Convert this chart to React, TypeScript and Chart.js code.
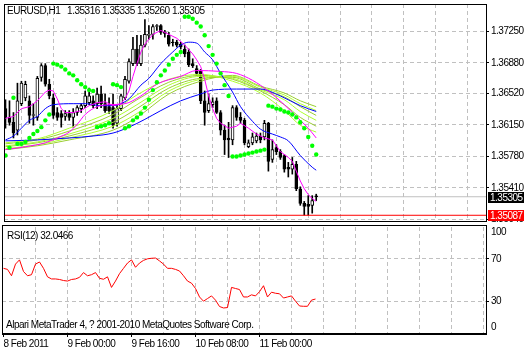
import React, { useEffect, useRef } from "react";
import { Chart, registerables } from "chart.js";
Chart.register(...registerables);

// ---------- DATA ----------
const opens = [1.36341,1.36238,1.36180,1.36088,1.36399,1.36468,1.36433,1.36261,1.36238,1.36709,
1.36847,1.36628,1.36468,1.36295,1.36284,1.36249,1.36284,1.36238,1.36295,1.36341,
1.36376,1.36410,1.36433,1.36399,1.36513,1.36399,1.36364,1.36353,1.36169,1.36341,
1.36468,1.36663,1.36870,1.37042,1.36870,1.37088,1.37203,1.37214,1.37306,1.37318,
1.37237,1.37203,1.37122,1.37122,1.37099,1.37042,1.37007,1.36870,1.36812,1.36778,
1.36433,1.36318,1.36387,1.36433,1.36295,1.36088,1.35996,1.35973,1.36353,1.36238,
1.36203,1.35893,1.35939,1.35962,1.36019,1.36008,1.36169,1.35744,1.35882,1.35836,
1.35790,1.35652,1.35629,1.35686,1.35399,1.35227,1.35215,1.35204,1.35316];
const highs = [1.36445,1.36433,1.36295,1.36640,1.36663,1.36663,1.36490,1.36399,1.36720,1.36870,
1.36870,1.36686,1.36513,1.36353,1.36318,1.36318,1.36318,1.36341,1.36376,1.36399,
1.36548,1.36582,1.36490,1.36582,1.36605,1.36513,1.36468,1.36513,1.36376,1.36513,
1.36720,1.36927,1.37180,1.37203,1.37203,1.37387,1.37318,1.37329,1.37329,1.37329,
1.37260,1.37237,1.37157,1.37145,1.37122,1.37088,1.37042,1.36927,1.36847,1.36801,
1.36548,1.36513,1.36468,1.36468,1.36318,1.36146,1.36180,1.36376,1.36376,1.36295,
1.36226,1.35973,1.36054,1.36054,1.36054,1.36203,1.36180,1.35973,1.35916,1.35859,
1.35801,1.35709,1.35767,1.35721,1.35422,1.35250,1.35318,1.35318,1.35335];
const lows = [1.36111,1.36146,1.35996,1.36031,1.36376,1.36433,1.36169,1.36146,1.36203,1.36663,
1.36605,1.36456,1.36226,1.36203,1.36123,1.36203,1.36203,1.36123,1.36261,1.36295,
1.36353,1.36387,1.36353,1.36341,1.36353,1.36295,1.36284,1.36111,1.36134,1.36318,
1.36445,1.36640,1.36847,1.36847,1.36847,1.37065,1.37157,1.37157,1.37260,1.37214,
1.37180,1.37076,1.37076,1.37065,1.37042,1.36950,1.36835,1.36824,1.36732,1.36399,
1.36146,1.36295,1.36353,1.36284,1.36031,1.35801,1.35766,1.35916,1.36203,1.36169,
1.35916,1.35881,1.35916,1.35939,1.35939,1.35973,1.35606,1.35709,1.35801,1.35744,
1.35594,1.35537,1.35571,1.35376,1.35204,1.35089,1.35089,1.35112,1.35260];
const closes = [1.36238,1.36180,1.36054,1.36433,1.36640,1.36628,1.36261,1.36272,1.36697,1.36847,
1.36628,1.36490,1.36261,1.36238,1.36238,1.36284,1.36238,1.36295,1.36353,1.36376,
1.36490,1.36490,1.36376,1.36513,1.36399,1.36318,1.36318,1.36146,1.36341,1.36490,
1.36686,1.36893,1.37042,1.36870,1.37088,1.37214,1.37214,1.37306,1.37318,1.37237,
1.37226,1.37099,1.37115,1.37088,1.37065,1.36984,1.36858,1.36847,1.36755,1.36433,
1.36295,1.36399,1.36422,1.36295,1.36088,1.35973,1.35973,1.36353,1.36238,1.36203,
1.35939,1.35939,1.36008,1.36019,1.35973,1.36169,1.35721,1.35859,1.35836,1.35767,
1.35629,1.35629,1.35686,1.35399,1.35227,1.35192,1.35192,1.35261,1.35305];

const sar = [1.35790,1.35882,1.36468,1.35927,1.35927,1.35950,1.35996,1.36042,1.36077,1.36123,
1.36203,1.36272,1.36870,1.36858,1.36835,1.36801,1.36755,1.36732,1.36674,1.36628,
1.36594,1.36559,1.36548,1.36123,1.36134,1.36146,1.36169,1.36628,1.36617,1.36594,
1.36111,1.36134,1.36203,1.36238,1.36284,1.36353,1.36445,1.36559,1.36651,1.36732,
1.36789,1.36858,1.36927,1.36973,1.37007,1.37421,1.37421,1.37398,1.37352,1.37306,
1.37203,1.37076,1.36973,1.36870,1.36755,1.36617,1.36490,1.35778,1.35778,1.35790,
1.35801,1.35813,1.35824,1.35836,1.35847,1.35859,1.36376,1.36364,1.36341,1.36330,
1.36307,1.36295,1.36272,1.36238,1.36180,1.36111,1.36008,1.35904,1.35801];

const rsi = [61,60,54,65,69,58,54,55,65,67,
61,53,51,51,50.5,49.5,49,50.5,51,52.5,
57,54,55,57,51.6,50.7,53,43,49,56,
61,66,69,62,66,68.5,70,70.5,70.7,68,
65,61,61,60,58.5,54,49,47,42,34,
30,32.5,35,31,25,23.6,24,43,42,41,
34,34,36,35,39,44.6,34,38.5,37.5,37,
33,34,35,30,25.5,25.2,25.2,31,32.0466];

const magentaFast: [number, number][] = [[0,1.36226],[2,1.36249],[4,1.36341],[6,1.36364],[8,1.36433],[10,1.36536],[11,1.36559],[12,1.36548],[13,1.36456],[14,1.36341],[15,1.36295],[17,1.36295],[19,1.36318],[21,1.36376],[23,1.36410],[25,1.36422],[27,1.36376],[29,1.36399],[30,1.36456],[31,1.36548],[32,1.36720],[33,1.36870],[34,1.37007],[35,1.37099],[36,1.37157],[37,1.37214],[39,1.37260],[41,1.37214],[43,1.37168],[45,1.37088],[47,1.36984],[48,1.36915],[49,1.36835],[50,1.36686],[51,1.36490],[52,1.36341],[53,1.36226],[54,1.36169],[56,1.36111],[58,1.36134],[59,1.36169],[61,1.36111],[63,1.36042],[65,1.35996],[67,1.35973],[69,1.35836],[71,1.35767],[72,1.35721],[73,1.35606],[74,1.35491],[75,1.35399],[76,1.35330],[77,1.35284],[78,1.35250]];
const magentaSlow: [number, number][] = [[0,1.35859],[5,1.35893],[10,1.35939],[13,1.35996],[16,1.36065],[18,1.36157],[20,1.36272],[23,1.36364],[26,1.36387],[30,1.36399],[34,1.36490],[38,1.36628],[44,1.36720],[48,1.36789],[54,1.36778],[58,1.36755],[62,1.36674],[66,1.36548],[70,1.36387],[73,1.36249],[76,1.36111],[78,1.35996]];
const blueMid: [number, number][] = [[0,1.35973],[2,1.36019],[4,1.36111],[6,1.36203],[8,1.36249],[10,1.36341],[12,1.36387],[17,1.36399],[20,1.36399],[24,1.36376],[27,1.36376],[29,1.36399],[31,1.36456],[34,1.36617],[36,1.36697],[39,1.36870],[42,1.37007],[44,1.37088],[46,1.37122],[48,1.37111],[50,1.37007],[52,1.36915],[54,1.36755],[57,1.36536],[59,1.36364],[62,1.36192],[64,1.36100],[67,1.36042],[69,1.36008],[71,1.35962],[74,1.35790],[77,1.35652],[78,1.35617]];
const blueSlow: [number, number][] = [[0,1.35962],[8,1.35973],[16,1.35996],[22,1.36019],[27,1.36054],[31,1.36123],[35,1.36215],[39,1.36318],[44,1.36433],[49,1.36513],[52,1.36559],[58,1.36571],[64,1.36571],[69,1.36490],[74,1.36376],[78,1.36307]];

const ribbonIdx = [0, 8, 16, 27, 33, 41, 49, 57, 64, 70, 74, 78];
const ribbon1 = [1.35939,1.35985,1.36111,1.36318,1.36502,1.36686,1.36743,1.36663,1.36525,1.36318,1.36146,1.36065];
const ribbon2 = [1.35927,1.35973,1.36077,1.36272,1.36445,1.36651,1.36732,1.36686,1.36548,1.36387,1.36238,1.36134];
const ribbon3 = [1.35904,1.35950,1.36042,1.36226,1.36387,1.36617,1.36720,1.36697,1.36559,1.36445,1.36307,1.36203];
const ribbon4 = [1.35893,1.35939,1.36019,1.36180,1.36341,1.36582,1.36697,1.36709,1.36571,1.36479,1.36364,1.36261];
const ribbon5 = [1.35870,1.35916,1.35996,1.36134,1.36284,1.36548,1.36686,1.36720,1.36594,1.36502,1.36399,1.36318];
const ribbon6 = [1.35859,1.35904,1.35973,1.36088,1.36238,1.36513,1.36663,1.36732,1.36605,1.36525,1.36433,1.36364];

const priceTicks = [1.35040, 1.35410, 1.35780, 1.36150, 1.36520, 1.36880, 1.37250];
const gridIdx = [8, 16, 24, 32, 40, 48, 56, 64, 72, 80, 88, 96, 104, 112, 120];
const timeTickIdx = [0, 8, 16, 24, 32, 40, 48, 56, 64, 72, 80, 88, 96, 104, 112, 120];
const timeLabels: Record<number, string> = { 0: "8 Feb 2011", 16: "9 Feb 00:00", 32: "9 Feb 16:00", 48: "10 Feb 08:00", 64: "11 Feb 00:00" };
const rsiLevels = [30, 70];
const rsiTickPos = [5.7, 30, 70, 95.3];
const rsiTickLabels = ["0", "30", "70", "100"];
const bidPrice = 1.35305;
const redLinePrice = 1.35087;
const titleText = "EURUSD,H1   1.35316 1.35335 1.35260 1.35305";
const rsiTitle = "RSI(12) 32.0466";
const copyright = "Alpari MetaTrader 4, ? 2001-2010 MetaQuotes Software Corp.";

// ---------- STYLE ----------
const X_MIN = -0.375;
const X_MAX = 120.625;
const Y_MIN = 1.35008;
const Y_MAX = 1.37571;
const FONT_FAMILY = "'Liberation Sans', Arial, sans-serif";
const font = { family: FONT_FAMILY, size: 10 };
const gridDash = [4, 3];
const GRID = "#c0c0c0";
const NONE = "rgba(0,0,0,0)";

const spacingPlugin = {
  id: "spacing",
  beforeDraw(chart: any) {
    chart.ctx.letterSpacing = "-0.5px";
  },
};

const mainFrame = {
  id: "mainFrame",
  afterDatasetsDraw(chart: any) {
    const { ctx, chartArea: a } = chart;
    ctx.save();
    ctx.setLineDash([]);
    ctx.strokeStyle = "#000";
    ctx.lineWidth = 1;
    ctx.strokeRect(a.left + 0.5, a.top + 0.5, a.right - a.left, a.bottom - a.top - 1);
    ctx.restore();
  },
  afterDraw(chart: any) {
    const { ctx, chartArea: a, scales } = chart;
    const y = scales.y;
    const tag = (price: number, bg: string) => {
      const py = Math.round(y.getPixelForValue(price));
      ctx.save();
      ctx.letterSpacing = "-0.5px";
      ctx.fillStyle = bg;
      ctx.fillRect(a.right + 2, py - 5, 524 - a.right - 2, 11);
      ctx.fillStyle = "#fff";
      ctx.font = `10px ${FONT_FAMILY}`;
      ctx.textBaseline = "middle";
      ctx.textAlign = "left";
      ctx.fillText(price.toFixed(5), a.right + 4, py + 1);
      ctx.restore();
    };
    tag(bidPrice, "#000");
    tag(redLinePrice, "#ff0000");
  },
};

const rsiFrame = {
  id: "rsiFrame",
  afterDatasetsDraw(chart: any) {
    const { ctx, chartArea: a } = chart;
    ctx.save();
    ctx.setLineDash([]);
    ctx.strokeStyle = "#000";
    ctx.lineWidth = 1;
    ctx.beginPath();
    ctx.moveTo(a.left + 0.5, 0);
    ctx.lineTo(a.left + 0.5, a.bottom);
    ctx.moveTo(a.left, 0.5);
    ctx.lineTo(a.right + 1, 0.5);
    ctx.moveTo(a.right + 0.5, 0);
    ctx.lineTo(a.right + 0.5, a.bottom + 2);
    ctx.moveTo(a.left, a.bottom + 0.5);
    ctx.lineTo(a.right + 1, a.bottom + 0.5);
    ctx.moveTo(a.left, a.bottom + 1.5);
    ctx.lineTo(a.right + 1, a.bottom + 1.5);
    ctx.stroke();
    ctx.restore();
  },
};

const pairLine = (pts: [number, number][], color: string, order: number, smooth: boolean) => ({
  type: "line" as const,
  data: pts.map(([x, y]) => ({ x, y })),
  borderColor: color,
  borderWidth: 1,
  pointRadius: 0,
  fill: false,
  tension: 0,
  cubicInterpolationMode: smooth ? ("monotone" as const) : ("default" as const),
  order,
});

export default function App() {
  const mainRef = useRef<HTMLCanvasElement>(null);
  const rsiRef = useRef<HTMLCanvasElement>(null);

  useEffect(() => {
    const bodyColors = closes.map((c, i) => (c >= opens[i] ? "#ffffff" : "#000000"));
    const ribbons = [ribbon1, ribbon2, ribbon3, ribbon4, ribbon5, ribbon6];
    const ribbonColors = ["#adff2f", "#9acd32", "#adff2f", "#9acd32", "#adff2f", "#9acd32"];

    const main = new Chart(mainRef.current!, {
      type: "line",
      data: {
        datasets: [
          {
            type: "line",
            data: [{ x: X_MIN - 1, y: bidPrice }, { x: X_MAX + 1, y: bidPrice }],
            borderColor: "#c0c0c0",
            borderWidth: 1,
            pointRadius: 0,
            order: 30,
          },
          {
            type: "bar",
            data: opens.map((_, i) => ({ x: i, y: [lows[i], highs[i]] })),
            backgroundColor: "#000",
            barThickness: 1,
            grouped: false,
            order: 20,
          },
          {
            type: "bar",
            data: opens.map((o, i) => ({ x: i, y: [o, closes[i]] })),
            backgroundColor: bodyColors,
            borderColor: "#000",
            borderWidth: 1,
            borderSkipped: false,
            barThickness: 3,
            grouped: false,
            order: 19,
          },
          ...ribbons.map((r, k) =>
            pairLine(ribbonIdx.map((x, j) => [x, r[j]] as [number, number]), ribbonColors[k], 10, true)
          ),
          pairLine(blueSlow, "#0000ff", 8, true),
          pairLine(blueMid, "#0000ff", 8, true),
          pairLine(magentaSlow, "#ff00ff", 6, true),
          pairLine(magentaFast, "#ff00ff", 6, false),
          {
            type: "line",
            data: [{ x: X_MIN - 1, y: redLinePrice }, { x: X_MAX + 1, y: redLinePrice }],
            borderColor: "#ff0000",
            borderWidth: 1,
            pointRadius: 0,
            order: 3,
          },
          {
            type: "line",
            data: sar.map((v, i) => ({ x: i, y: v })),
            showLine: false,
            pointStyle: "circle",
            pointRadius: 2.2,
            pointBackgroundColor: "#00ff00",
            pointBorderWidth: 0,
            order: 1,
          },
        ] as any,
      },
      options: {
        responsive: false,
        animation: false,
        devicePixelRatio: 1,
        events: [],
        layout: { padding: { left: 2, top: 1, right: 0, bottom: 2 } },
        plugins: { legend: { display: false }, tooltip: { enabled: false } },
        scales: {
          x: {
            type: "linear",
            min: X_MIN,
            max: X_MAX,
            offset: false,
            bounds: "data",
            afterBuildTicks: (s: any) => {
              s.ticks = gridIdx.map((v) => ({ value: v }));
            },
            afterFit: (s: any) => {
              s.height = 0;
              s.paddingLeft = 0;
              s.paddingRight = 0;
            },
            ticks: { display: false },
            grid: { color: GRID, drawTicks: false, lineWidth: 1 },
            border: { display: false, dash: gridDash },
          },
          y: {
            type: "linear",
            position: "right",
            min: Y_MIN,
            max: Y_MAX,
            bounds: "data",
            afterBuildTicks: (s: any) => {
              s.ticks = priceTicks.map((v) => ({ value: v }));
            },
            afterFit: (s: any) => {
              s.width = 38;
              s.paddingTop = 0;
              s.paddingBottom = 0;
            },
            ticks: {
              font,
              color: "#000",
              padding: 2,
              autoSkip: false,
              callback: (v: any) => Number(v).toFixed(5),
            },
            grid: { color: GRID, tickColor: "#000", tickLength: 3, lineWidth: 1 },
            border: { display: false, dash: gridDash },
          },
        } as any,
      },
      plugins: [spacingPlugin, mainFrame],
    });

    const rsiChart = new Chart(rsiRef.current!, {
      type: "line",
      data: {
        datasets: [
          {
            data: rsi.map((v, i) => ({ x: i, y: v })),
            borderColor: "#ff0000",
            borderWidth: 1,
            pointRadius: 0,
            tension: 0,
          },
        ],
      },
      options: {
        responsive: false,
        animation: false,
        devicePixelRatio: 1,
        events: [],
        layout: { padding: { left: 2, top: 2, right: 0, bottom: 0 } },
        plugins: { legend: { display: false }, tooltip: { enabled: false } },
        scales: {
          x: {
            type: "linear",
            min: X_MIN,
            max: X_MAX,
            offset: false,
            bounds: "data",
            afterBuildTicks: (s: any) => {
              s.ticks = timeTickIdx.map((v) => ({ value: v }));
            },
            afterFit: (s: any) => {
              s.height = 18;
              s.paddingLeft = 0;
              s.paddingRight = 0;
            },
            ticks: {
              font,
              color: "#000",
              align: "start",
              maxRotation: 0,
              minRotation: 0,
              autoSkip: false,
              padding: 1,
              callback: (v: any) => timeLabels[Number(v)] ?? "",
            },
            grid: {
              color: (c: any) => (c.tick && c.tick.value !== 0 ? GRID : NONE),
              tickColor: (c: any) => (c.tick && timeLabels[c.tick.value] ? "#000" : NONE),
              tickLength: 4,
              lineWidth: 1,
            },
            border: { display: false, dash: gridDash },
          },
          y: {
            type: "linear",
            position: "right",
            min: 0,
            max: 100,
            bounds: "data",
            afterBuildTicks: (s: any) => {
              s.ticks = rsiTickPos.map((v) => ({ value: v }));
            },
            afterFit: (s: any) => {
              s.width = 38;
              s.paddingTop = 0;
              s.paddingBottom = 0;
            },
            ticks: {
              font,
              color: "#000",
              padding: 2,
              autoSkip: false,
              callback: (v: any) => rsiTickLabels[rsiTickPos.indexOf(Number(v))] ?? "",
            },
            grid: {
              color: (c: any) => (c.tick && rsiLevels.includes(c.tick.value) ? GRID : NONE),
              tickColor: (c: any) => (c.tick && rsiLevels.includes(c.tick.value) ? "#000" : NONE),
              tickLength: 3,
              lineWidth: 1,
            },
            border: { display: false, dash: gridDash },
          },
        } as any,
      },
      plugins: [spacingPlugin, rsiFrame],
    });

    return () => {
      main.destroy();
      rsiChart.destroy();
    };
  }, []);

  const txt = (left: number, top: number): React.CSSProperties => ({
    position: "absolute",
    left,
    top,
    fontFamily: FONT_FAMILY,
    fontSize: 10,
    lineHeight: "12px",
    letterSpacing: "-0.5px",
    whiteSpace: "pre",
    color: "#000",
  });

  return (
    <div style={{ position: "absolute", left: 0, top: 0, width: 524, height: 351, background: "#fff", overflow: "hidden" }}>
      <canvas ref={mainRef} width={524} height={226} style={{ position: "absolute", left: 0, top: 0 }} />
      <canvas ref={rsiRef} width={524} height={126} style={{ position: "absolute", left: 0, top: 225 }} />
      <div style={txt(7, 5)}>{titleText}</div>
      <div style={txt(7, 230)}>{rsiTitle}</div>
      <div style={txt(6, 319)}>{copyright}</div>
    </div>
  );
}
